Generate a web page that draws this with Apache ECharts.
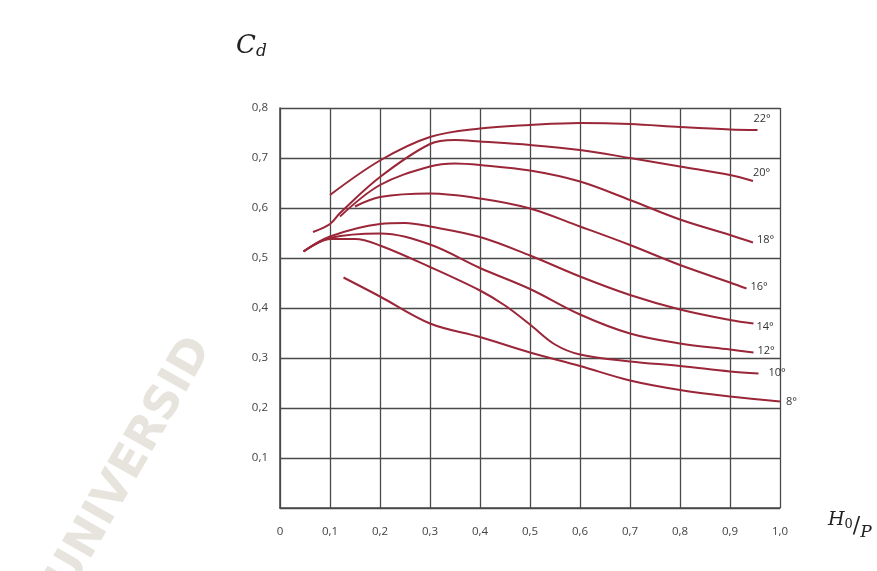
<!DOCTYPE html>
<html>
<head>
<meta charset="utf-8">
<script src="https://cdn.jsdelivr.net/npm/echarts@6/dist/echarts.min.js"></script>
<style>
  html, body { margin: 0; padding: 0; background: #fff; }
  #chart { width: 877px; height: 571px; }
</style>
</head>
<body>
<div id="chart"></div>
<script>
// curve labels (weir angle)
const angles = ['22°', '20°', '18°', '16°', '14°', '12°', '10°', '8°']

// H0/P values and Cd values
const x22 = [0.10, 0.2, 0.3, 0.4, 0.5, 0.6, 0.7, 0.8, 0.9, 0.955]
const y22 = [0.626, 0.695, 0.742, 0.759, 0.766, 0.770, 0.768, 0.762, 0.757, 0.756]
const x20 = [0.066, 0.1, 0.12, 0.2, 0.3, 0.35, 0.4, 0.5, 0.6, 0.7, 0.8, 0.9, 0.946]
const y20 = [0.552, 0.568, 0.59, 0.662, 0.728, 0.736, 0.733, 0.726, 0.716, 0.700, 0.683, 0.666, 0.654]
const x18 = [0.12, 0.2, 0.3, 0.35, 0.4, 0.5, 0.6, 0.7, 0.8, 0.9, 0.946]
const y18 = [0.583, 0.646, 0.683, 0.689, 0.686, 0.675, 0.653, 0.616, 0.577, 0.546, 0.531]
const x16 = [0.15, 0.2, 0.3, 0.4, 0.5, 0.6, 0.7, 0.8, 0.9, 0.933]
const y16 = [0.603, 0.622, 0.629, 0.619, 0.599, 0.563, 0.526, 0.486, 0.451, 0.439]
const x14 = [0.047, 0.1, 0.2, 0.25, 0.3, 0.4, 0.5, 0.6, 0.7, 0.8, 0.9, 0.947]
const y14 = [0.513, 0.543, 0.568, 0.570, 0.563, 0.542, 0.505, 0.463, 0.426, 0.397, 0.376, 0.369]
const x12 = [0.047, 0.1, 0.2, 0.3, 0.4, 0.5, 0.6, 0.7, 0.8, 0.9, 0.947]
const y12 = [0.513, 0.540, 0.549, 0.527, 0.480, 0.438, 0.387, 0.349, 0.329, 0.317, 0.311]
const x10 = [0.047, 0.1, 0.15, 0.2, 0.3, 0.4, 0.45, 0.5, 0.55, 0.6, 0.7, 0.8, 0.9, 0.957]
const y10 = [0.513, 0.538, 0.538, 0.525, 0.482, 0.435, 0.405, 0.367, 0.327, 0.307, 0.293, 0.284, 0.273, 0.269]
const x8 = [0.127, 0.2, 0.3, 0.4, 0.5, 0.6, 0.7, 0.8, 0.9, 1.0]
const y8 = [0.461, 0.423, 0.369, 0.342, 0.311, 0.284, 0.255, 0.236, 0.223, 0.213]

const xsAll = [x22, x20, x18, x16, x14, x12, x10, x8]
const ysAll = [y22, y20, y18, y16, y14, y12, y10, y8]
// where each angle label sits relative to the curve end
const labelOffsets = [[-6, -11], [-2, -8], [2, -3], [2, -2], [1, 3], [2, -2], [8, -1], [4, 0]]

const fmtComma = v => (v === 0 ? '0' : v.toFixed(1).replace('.', ','))

let series = []
angles.forEach((name, i) => {
  series.push({
    name: name,
    type: 'line',
    smooth: 0.35,
    symbol: 'none',
    data: xsAll[i].map((x, k) => [x, ysAll[i][k]]),
    lineStyle: { color: '#9a2638', width: 2 },
    endLabel: {
      show: true,
      formatter: '{a}',
      color: '#333',
      fontSize: 11,
      fontFamily: 'Open Sans',
      distance: 2,
      offset: labelOffsets[i]
    },
    z: 3
  })
})

const option = {
  animation: false,
  backgroundColor: '#fff',
  grid: { left: 280, top: 108, width: 500, height: 400 },
  xAxis: {
    type: 'value',
    min: 0,
    max: 1,
    interval: 0.1,
    axisLine: { show: true, lineStyle: { color: '#4a4a4a', width: 1.6 } },
    axisTick: { show: false },
    splitLine: { show: true, lineStyle: { color: '#4a4a4a', width: 1.3 } },
    axisLabel: {
      formatter: fmtComma,
      color: '#444',
      fontSize: 11.5,
      fontFamily: 'Open Sans',
      margin: 18
    }
  },
  yAxis: {
    type: 'value',
    min: 0,
    max: 0.8,
    interval: 0.1,
    axisLine: { show: true, lineStyle: { color: '#4a4a4a', width: 1.6 } },
    axisTick: { show: false },
    splitLine: { show: true, lineStyle: { color: '#4a4a4a', width: 1.3 } },
    axisLabel: {
      formatter: v => (v === 0 ? '' : fmtComma(v)),
      color: '#444',
      fontSize: 11.5,
      fontFamily: 'Open Sans',
      margin: 12
    }
  },
  graphic: [
    {
      type: 'text',
      left: 40,
      top: 330,
      rotation: 1.05,
      z: 0,
      style: {
        text: 'UNIVERSID',
        fill: '#e6e4dc',
        font: 'bold 46px "DejaVu Sans"'
      }
    },
    {
      type: 'text',
      left: 236,
      top: 33,
      style: {
        text: '{c|C}{d|d}',
        rich: {
          c: { font: 'italic 26px "DejaVu Serif"', fill: '#222' },
          d: { font: 'italic 17px "DejaVu Serif"', fill: '#222', padding: [12, 0, 0, 0] }
        }
      }
    },
    {
      type: 'text',
      left: 828,
      top: 511,
      style: {
        text: '{h|H}{o|0}{s|/}{p|P}',
        rich: {
          h: { font: 'italic 19px "DejaVu Serif"', fill: '#222' },
          o: { font: '13px "DejaVu Serif"', fill: '#222', padding: [8, 0, 0, 0] },
          s: { font: '22px "DejaVu Serif"', fill: '#222', padding: [12, 0, 0, 0] },
          p: { font: 'italic 17px "DejaVu Serif"', fill: '#222', padding: [24, 0, 0, 0] }
        }
      }
    }
  ],
  series: series
}

var myChart = echarts.init(document.getElementById('chart'))
myChart.setOption(option)
</script>
</body>
</html>
